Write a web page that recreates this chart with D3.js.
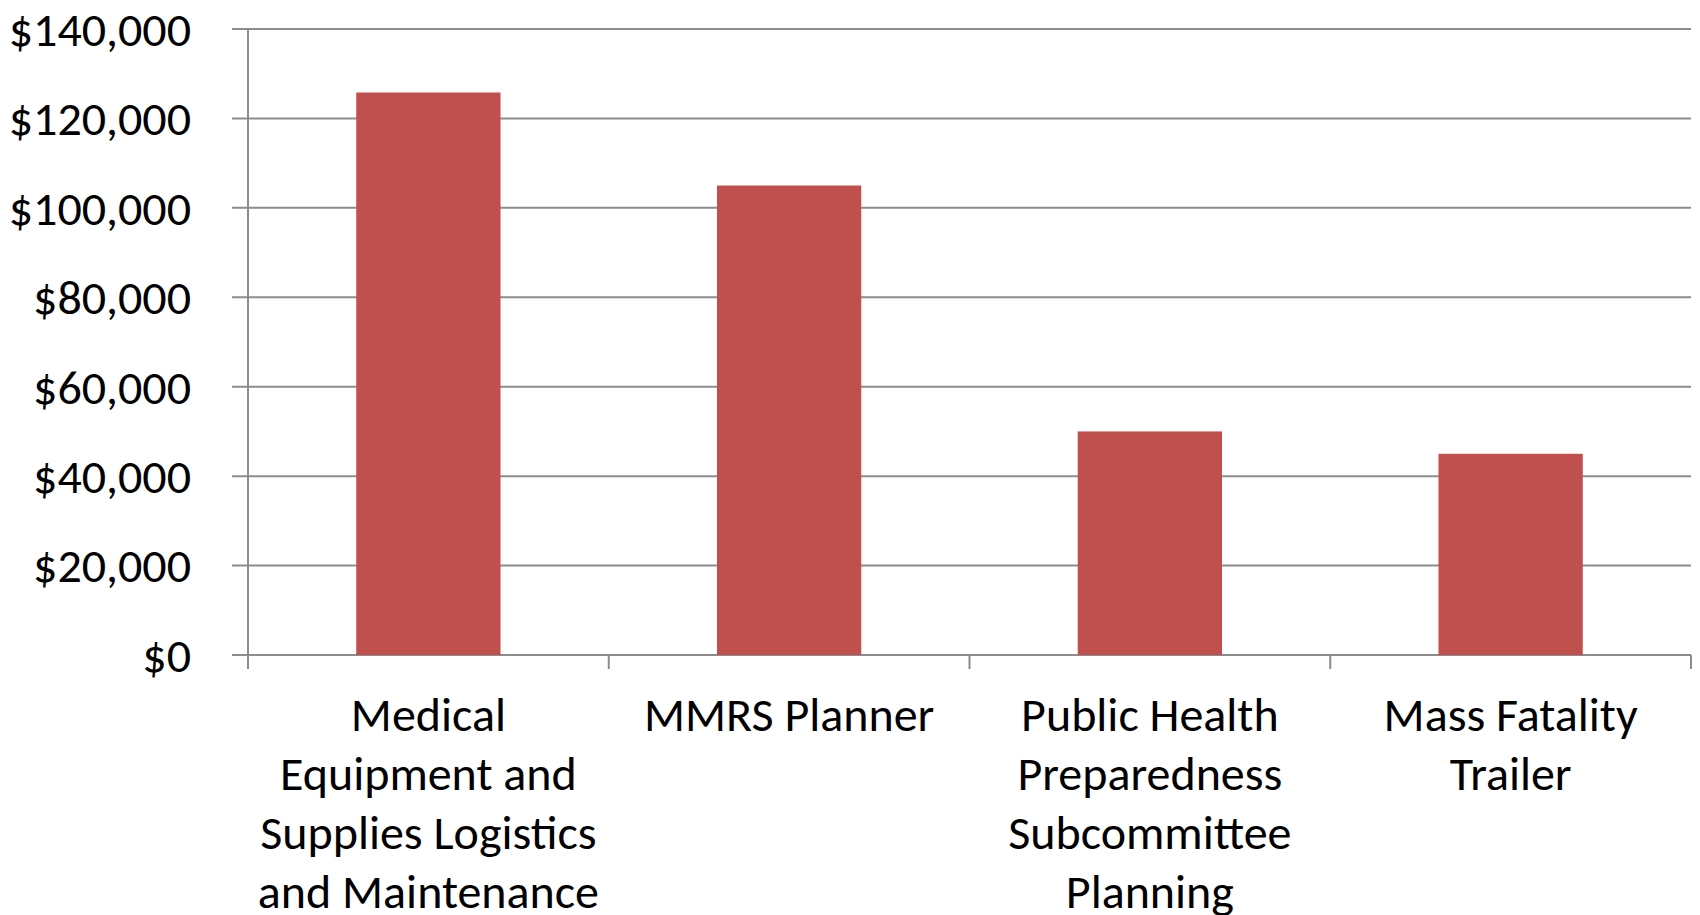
<!DOCTYPE html>
<html>
<head>
<meta charset="utf-8">
<script src="https://cdn.jsdelivr.net/npm/d3@7"></script>
<style>
   body { margin: 0; background: #fff; }
   text { font-family: Calibri, Carlito, 'Liberation Sans', sans-serif; fill: #000; }
</style>
</head>
<body>
<svg id="chart" width="1700" height="915"></svg>
<script>
// Data
const categories = [
   'Medical|Equipment and|Supplies Logistics|and Maintenance',
   'MMRS Planner',
   'Public Health|Preparedness|Subcommittee|Planning',
   'Mass Fatality|Trailer'
];
const values = [125800, 105000, 50000, 45000];
const yTicks = [0, 20000, 40000, 60000, 80000, 100000, 120000, 140000];

const svg = d3.select('#chart');
const margin = {top: 29, right: 9, bottom: 260, left: 248};
const width = +svg.attr('width');
const height = +svg.attr('height');
const FONT_SIZE = 48;
const LINE_HEIGHT = 59;
const GRID = '#8c8c8c';

const x = d3.scaleBand()
            .domain(categories)
            .range([margin.left, width - margin.right])
            .paddingInner(0.6)
            .paddingOuter(0.3);

const y = d3.scaleLinear()
            .domain([0, 140000])
            .range([height - margin.bottom, margin.top]);

// Gridlines (with the small tick to the left of the axis)
svg.append('g')
   .selectAll('line')
   .data(yTicks)
   .enter()
   .append('line')
   .attr('x1', margin.left - 16)
   .attr('x2', width - margin.right)
   .attr('y1', d => y(d))
   .attr('y2', d => y(d))
   .attr('stroke', GRID)
   .attr('stroke-width', 2);

// Y labels
svg.append('g')
   .selectAll('text')
   .data(yTicks)
   .enter()
   .append('text')
   .attr('x', margin.left - 57)
   .attr('y', d => y(d))
   .attr('dy', '0.35em')
   .attr('text-anchor', 'end')
   .style('font-size', FONT_SIZE + 'px')
   .text(d => '$' + d3.format(',')(d));

// Bars
svg.append('g')
   .selectAll('rect')
   .data(values)
   .enter()
   .append('rect')
   .attr('x', (d, i) => x(categories[i]))
   .attr('y', d => y(d))
   .attr('width', x.bandwidth())
   .attr('height', d => y(0) - y(d))
   .attr('fill', '#C0504D');

// Axes lines
svg.append('line')
   .attr('x1', margin.left).attr('x2', margin.left)
   .attr('y1', y(140000)).attr('y2', y(0) + 14)
   .attr('stroke', GRID).attr('stroke-width', 2);

// Category boundary ticks
const step = x.step();
const bounds = d3.range(categories.length + 1).map(i => margin.left + i * step);
svg.append('g')
   .selectAll('line')
   .data(bounds)
   .enter()
   .append('line')
   .attr('x1', d => d).attr('x2', d => d)
   .attr('y1', y(0)).attr('y2', y(0) + 14)
   .attr('stroke', GRID).attr('stroke-width', 2);

// Category labels
const labels = svg.append('g')
                  .selectAll('text')
                  .data(categories)
                  .enter()
                  .append('text')
                  .attr('text-anchor', 'middle')
                  .style('font-size', FONT_SIZE + 'px');

labels.selectAll('tspan')
      .data(d => d.split('|').map(line => ({line, cat: d})))
      .enter()
      .append('tspan')
      .attr('x', d => x(d.cat) + x.bandwidth() / 2)
      .attr('y', (d, i) => y(0) + 76 + i * LINE_HEIGHT)
      .text(d => d.line);
</script>
</body>
</html>
